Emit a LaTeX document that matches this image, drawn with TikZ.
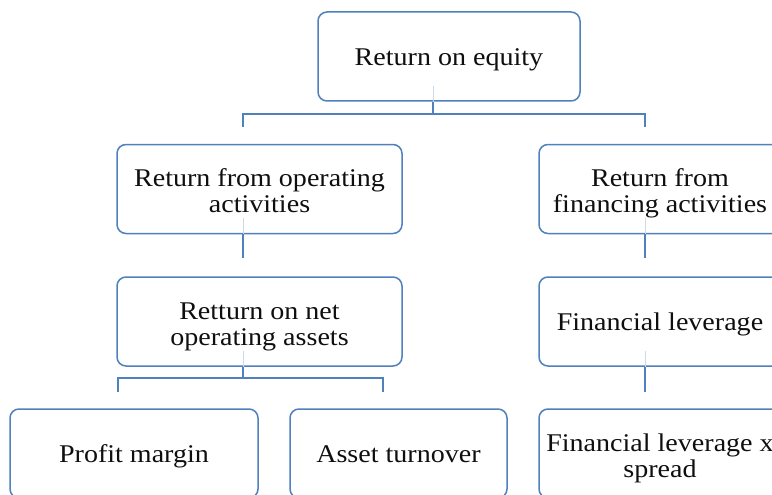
\documentclass[tikz,border=0pt]{standalone}
\usepackage{fontspec}
\setmainfont[FakeStretch=1.1]{Liberation Serif}
\definecolor{boxblue}{RGB}{79,129,189}
\definecolor{faintblue}{RGB}{205,218,236}
\definecolor{txt}{RGB}{15,15,15}
\begin{document}
\begin{tikzpicture}[x=1pt,y=-1pt,
  box/.style={draw=boxblue,line width=1.5pt,rounded corners=9pt,fill=white,
    minimum height=89pt,inner sep=0pt,align=center,text=txt,text height=24pt,text depth=6pt,
    font=\fontsize{25.5}{26}\selectfont},
  twoline/.style={text height=53pt,text depth=6pt},
  conn/.style={draw=boxblue,line width=1.5pt},
  faint/.style={draw=faintblue,line width=1pt}]
\clip (0,0) rectangle (772,495);
\fill[white] (0,0) rectangle (772,495);
% nodes
\node[box,minimum width=262pt] (root) at (449,56.5) {Return on equity};
\node[box,twoline,minimum width=285pt] (opA) at (259.5,189) {Return from operating\\activities};
\node[box,twoline,minimum width=242pt] (finA) at (660,189) {Return from\\financing activities};
\node[box,twoline,minimum width=285pt] (rnoa) at (259.5,321.5) {Retturn on net\\operating assets};
\node[box,minimum width=242pt] (flev) at (660,321.5) {Financial leverage};
\node[box,minimum width=248pt] (pm) at (134,453.5) {Profit margin};
\node[box,minimum width=217pt] (at) at (398.5,453.5) {Asset turnover};
\node[box,twoline,minimum width=242pt] (fls) at (660,453.5) {Financial leverage x\\spread};
% junction coordinates
\coordinate (j1) at (433,114);
\coordinate (a1) at (243,127);
\coordinate (b1) at (645,127);
\coordinate (a2) at (243,258);
\coordinate (b2) at (645,258);
\coordinate (j3) at (243,378);
\coordinate (c3) at (118,392);
\coordinate (d3) at (383,392);
\coordinate (b3) at (645,392);
% faint inner lines
\draw[faint] (433,86) -- (root.south -| j1);
\draw[faint] (243,218) -- (opA.south -| a2);
\draw[faint] (645,218) -- (finA.south -| b2);
\draw[faint] (243,351) -- (rnoa.south -| j3);
\draw[faint] (645,351) -- (flev.south -| b3);
% connectors
\draw[conn] (root.south -| j1) -- (j1);
\draw[conn] (a1) |- (j1) -| (b1);
\draw[conn] (opA.south -| a2) -- (a2);
\draw[conn] (finA.south -| b2) -- (b2);
\draw[conn] (rnoa.south -| j3) -- (j3);
\draw[conn] (c3) |- (j3) -| (d3);
\draw[conn] (flev.south -| b3) -- (b3);
\end{tikzpicture}
\end{document}
